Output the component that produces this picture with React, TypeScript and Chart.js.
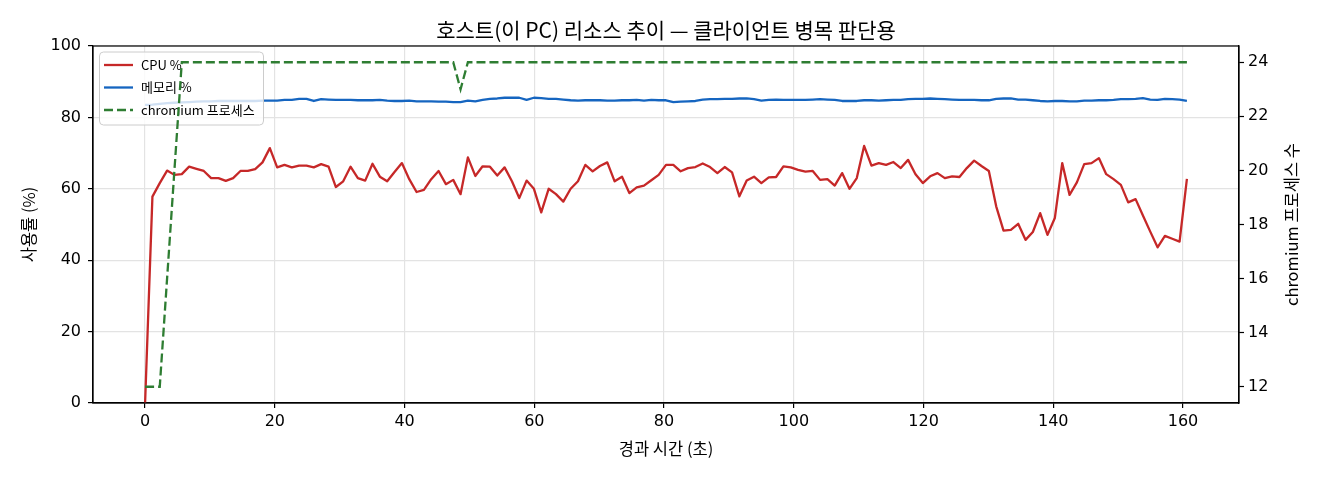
import React, { useEffect, useRef } from "react";
import { Chart, registerables } from "chart.js";

Chart.register(...registerables);

// sample times (s) and readings
const times = [
  0, 1.13, 2.26, 3.39, 4.52, 5.66, 6.79, 7.92, 9.05, 10.18,
  11.31, 12.44, 13.57, 14.7, 15.83, 16.97, 18.1, 19.23, 20.36, 21.49,
  22.62, 23.75, 24.88, 26.01, 27.14, 28.28, 29.41, 30.54, 31.67, 32.8,
  33.93, 35.06, 36.19, 37.32, 38.45, 39.59, 40.72, 41.85, 42.98, 44.11,
  45.24, 46.37, 47.5, 48.63, 49.76, 50.9, 52.03, 53.16, 54.29, 55.42,
  56.55, 57.68, 58.81, 59.94, 61.07, 62.21, 63.34, 64.47, 65.6, 66.73,
  67.86, 68.99, 70.12, 71.25, 72.38, 73.52, 74.65, 75.78, 76.91, 78.04,
  79.17, 80.3, 81.43, 82.56, 83.69, 84.83, 85.96, 87.09, 88.22, 89.35,
  90.48, 91.61, 92.74, 93.87, 95.0, 96.14, 97.27, 98.4, 99.53, 100.66,
  101.79, 102.92, 104.05, 105.18, 106.31, 107.45, 108.58, 109.71, 110.84, 111.97,
  113.1, 114.23, 115.36, 116.49, 117.62, 118.76, 119.89, 121.02, 122.15, 123.28,
  124.41, 125.54, 126.67, 127.8, 128.93, 130.07, 131.2, 132.33, 133.46, 134.59,
  135.72, 136.85, 137.98, 139.11, 140.24, 141.38, 142.51, 143.64, 144.77, 145.9,
  147.03, 148.16, 149.29, 150.42, 151.55, 152.69, 153.82, 154.95, 156.08, 157.21,
  158.34, 159.47, 160.6,
];

const cpuPct = [
  0, 57.8, 61.6, 65.1, 63.9, 64.1, 66.2, 65.6, 65.0, 63.0,
  63.0, 62.2, 63.0, 65.0, 65.0, 65.5, 67.4, 71.4, 66.0, 66.7,
  66.0, 66.5, 66.5, 66.0, 66.9, 66.2, 60.5, 62.1, 66.2, 63.0,
  62.3, 67.0, 63.4, 62.1, 64.7, 67.2, 62.7, 59.1, 59.7, 62.7,
  65.0, 61.3, 62.5, 58.5, 68.8, 63.6, 66.3, 66.2, 63.7, 66.0,
  62.1, 57.4, 62.3, 60.0, 53.4, 60.0, 58.5, 56.4, 60.0, 62.1,
  66.7, 64.9, 66.4, 67.4, 62.1, 63.4, 58.8, 60.4, 60.9, 62.4,
  63.9, 66.7, 66.7, 64.9, 65.8, 66.1, 67.1, 66.1, 64.4, 66.1,
  64.6, 57.9, 62.3, 63.4, 61.6, 63.2, 63.3, 66.3, 66.0, 65.3,
  64.8, 65.0, 62.5, 62.7, 60.9, 64.4, 60.0, 63.0, 72.0, 66.5,
  67.2, 66.7, 67.5, 65.8, 68.1, 64.1, 61.6, 63.5, 64.4, 63.0,
  63.5, 63.3, 65.8, 67.9, 66.4, 65.0, 55.1, 48.3, 48.5, 50.2,
  45.7, 47.9, 53.2, 47.1, 51.8, 67.2, 58.3, 61.8, 66.9, 67.2,
  68.6, 64.1, 62.7, 61.1, 56.2, 57.1, 52.5, 48.0, 43.6, 46.8,
  46.0, 45.2, 62.8,
];

const memPct = [
  83.5, 83.6, 83.8, 84.0, 84.1, 84.2, 84.3, 84.4, 84.5, 84.5,
  84.6, 84.6, 84.6, 84.6, 84.6, 84.6, 84.7, 84.7, 84.7, 84.9,
  84.9, 85.2, 85.2, 84.6, 85.1, 85.0, 84.9, 84.9, 84.9, 84.8,
  84.8, 84.8, 84.9, 84.7, 84.6, 84.6, 84.7, 84.5, 84.5, 84.5,
  84.4, 84.4, 84.3, 84.3, 84.7, 84.5, 84.9, 85.2, 85.3, 85.5,
  85.5, 85.5, 84.9, 85.5, 85.4, 85.2, 85.2, 85.0, 84.8, 84.7,
  84.8, 84.8, 84.8, 84.7, 84.7, 84.8, 84.8, 84.9, 84.7, 84.9,
  84.8, 84.8, 84.3, 84.4, 84.5, 84.6, 85.0, 85.1, 85.1, 85.2,
  85.2, 85.3, 85.3, 85.1, 84.7, 84.9, 85.0, 84.9, 84.9, 84.9,
  84.9, 85.0, 85.1, 85.0, 84.9, 84.6, 84.6, 84.6, 84.8, 84.8,
  84.7, 84.8, 84.9, 84.9, 85.1, 85.2, 85.2, 85.3, 85.2, 85.1,
  85.0, 84.9, 84.9, 84.9, 84.8, 84.8, 85.2, 85.3, 85.3, 85.0,
  85.0, 84.8, 84.6, 84.5, 84.6, 84.6, 84.5, 84.5, 84.7, 84.7,
  84.8, 84.8, 84.9, 85.1, 85.1, 85.2, 85.4, 85.0, 84.9, 85.2,
  85.1, 85.0, 84.6,
];

const chromiumProcs = [
  12, 12, 12, 16, 20, 24, 24, 24, 24, 24,
  24, 24, 24, 24, 24, 24, 24, 24, 24, 24,
  24, 24, 24, 24, 24, 24, 24, 24, 24, 24,
  24, 24, 24, 24, 24, 24, 24, 24, 24, 24,
  24, 24, 24, 23, 24, 24, 24, 24, 24, 24,
  24, 24, 24, 24, 24, 24, 24, 24, 24, 24,
  24, 24, 24, 24, 24, 24, 24, 24, 24, 24,
  24, 24, 24, 24, 24, 24, 24, 24, 24, 24,
  24, 24, 24, 24, 24, 24, 24, 24, 24, 24,
  24, 24, 24, 24, 24, 24, 24, 24, 24, 24,
  24, 24, 24, 24, 24, 24, 24, 24, 24, 24,
  24, 24, 24, 24, 24, 24, 24, 24, 24, 24,
  24, 24, 24, 24, 24, 24, 24, 24, 24, 24,
  24, 24, 24, 24, 24, 24, 24, 24, 24, 24,
  24, 24, 24,
];

const xTicks = [0, 20, 40, 60, 80, 100, 120, 140, 160];
const pctTicks = [0, 20, 40, 60, 80, 100];
const procTicks = [12, 14, 16, 18, 20, 22, 24];

const TITLE = "호스트(이 PC) 리소스 추이 — 클라이언트 병목 판단용";
const X_LABEL = "경과 시간 (초)";
const Y_LABEL = "사용률 (%)";
const Y1_LABEL = "chromium 프로세스 수";
const LEGEND_LABELS = ["CPU %", "메모리 %", "chromium 프로세스"];

const KR_FONT = '"Noto Sans CJK KR", sans-serif';
const TICK_FONT = '"DejaVu Sans", sans-serif';
const RED = "#c62828";
const BLUE = "#1565c0";
const GREEN = "#2e7d32";
const GRID = "#e3e3e3";
const DASH = [9, 4];
const LINE_W = 2.3;

function drawLegend(chart: Chart) {
  const ctx = chart.ctx;
  const x = 99.5;
  const y = 52;
  const w = 164;
  const h = 73;
  ctx.save();
  ctx.beginPath();
  ctx.roundRect(x, y, w, h, 4);
  ctx.fillStyle = "rgba(255,255,255,0.8)";
  ctx.fill();
  ctx.strokeStyle = "#cccccc";
  ctx.lineWidth = 1;
  ctx.stroke();

  const colors = [RED, BLUE, GREEN];
  ctx.font = `13px ${KR_FONT}`;
  ctx.textBaseline = "middle";
  ctx.textAlign = "left";
  LEGEND_LABELS.forEach((label, i) => {
    const ly = 65 + i * 22.5;
    ctx.beginPath();
    ctx.setLineDash(i === 2 ? DASH : []);
    ctx.strokeStyle = colors[i];
    ctx.lineWidth = LINE_W;
    ctx.moveTo(104, ly);
    ctx.lineTo(133, ly);
    ctx.stroke();
    ctx.fillStyle = "#000";
    ctx.fillText(label, 141, ly);
  });
  ctx.restore();
}

const decorations = {
  id: "decorations",
  beforeDatasetDraw(chart: Chart, args: any) {
    // legend sits on the left axes, the twin-axis line goes over it
    if (args.index === 2) drawLegend(chart);
  },
  afterDraw(chart: Chart) {
    const { ctx, chartArea: a } = chart;
    const midX = (a.left + a.right) / 2;
    const midY = (a.top + a.bottom) / 2;
    ctx.save();
    ctx.strokeStyle = "#000";
    ctx.lineWidth = 1.2;
    ctx.setLineDash([]);
    ctx.strokeRect(a.left, a.top, a.right - a.left, a.bottom - a.top);

    ctx.fillStyle = "#000";
    ctx.textAlign = "center";
    ctx.textBaseline = "middle";
    ctx.font = `21px ${KR_FONT}`;
    ctx.fillText(TITLE, midX, 30);

    ctx.font = `16.5px ${KR_FONT}`;
    ctx.fillText(X_LABEL, midX, 449);

    ctx.save();
    ctx.translate(29, midY);
    ctx.rotate(-Math.PI / 2);
    ctx.fillText(Y_LABEL, 0, 0);
    ctx.restore();

    ctx.save();
    ctx.translate(1292, midY);
    ctx.rotate(-Math.PI / 2);
    ctx.fillText(Y1_LABEL, 0, 0);
    ctx.restore();
    ctx.restore();
  },
};

export default function App() {
  const canvasRef = useRef<HTMLCanvasElement>(null);

  useEffect(() => {
    const canvas = canvasRef.current;
    if (!canvas) return;

    const pts = (vals: number[]) => vals.map((v, i) => ({ x: times[i], y: v }));
    const tickFont = { family: TICK_FONT, size: 16 };

    const chart = new Chart(canvas, {
      type: "line",
      data: {
        datasets: [
          {
            label: LEGEND_LABELS[0],
            data: pts(cpuPct),
            borderColor: RED,
            borderWidth: LINE_W,
            pointRadius: 0,
            borderJoinStyle: "round",
            yAxisID: "y",
            order: 3,
          },
          {
            label: LEGEND_LABELS[1],
            data: pts(memPct),
            borderColor: BLUE,
            borderWidth: LINE_W,
            pointRadius: 0,
            borderJoinStyle: "round",
            yAxisID: "y",
            order: 2,
          },
          {
            label: LEGEND_LABELS[2],
            data: pts(chromiumProcs),
            borderColor: GREEN,
            borderWidth: LINE_W,
            borderDash: DASH,
            pointRadius: 0,
            yAxisID: "y1",
            order: 1,
          },
        ],
      },
      options: {
        animation: false,
        responsive: false,
        layout: { padding: { top: 46, left: 0, right: 0, bottom: 0 } },
        plugins: {
          legend: { display: false },
          title: { display: false },
          tooltip: { enabled: false },
        },
        scales: {
          x: {
            type: "linear",
            min: -8.03,
            max: 168.63,
            afterBuildTicks: (s: any) => {
              s.ticks = xTicks.map((v) => ({ value: v }));
            },
            afterFit: (s: any) => {
              s.height = 77;
            },
            grid: { color: GRID, lineWidth: 1.2, tickColor: "#000", tickLength: 5, tickWidth: 1.2 },
            border: { color: "#000", width: 1.2 },
            ticks: { font: tickFont, color: "#000", padding: 4, maxRotation: 0, autoSkip: false },
          },
          y: {
            type: "linear",
            position: "left",
            min: 0,
            max: 100,
            afterBuildTicks: (s: any) => {
              s.ticks = pctTicks.map((v) => ({ value: v }));
            },
            afterFit: (s: any) => {
              s.width = 93;
            },
            grid: { color: GRID, lineWidth: 1.2, tickColor: "#000", tickLength: 5, tickWidth: 1.2 },
            border: { color: "#000", width: 1.2 },
            ticks: { font: tickFont, color: "#000", padding: 7 },
          },
          y1: {
            type: "linear",
            position: "right",
            min: 11.4,
            max: 24.6,
            afterBuildTicks: (s: any) => {
              s.ticks = procTicks.map((v) => ({ value: v }));
            },
            afterFit: (s: any) => {
              s.width = 81;
            },
            grid: { drawOnChartArea: false, tickColor: "#000", tickLength: 5, tickWidth: 1.2 },
            border: { color: "#000", width: 1.2 },
            ticks: { font: tickFont, color: "#000", padding: 4 },
          },
        },
      },
      plugins: [decorations],
    });

    return () => {
      chart.destroy();
    };
  }, []);

  return (
    <div style={{ position: "fixed", left: 0, top: 0, width: 1320, height: 480, background: "#fff" }}>
      <canvas ref={canvasRef} width={1320} height={480} style={{ display: "block" }} />
    </div>
  );
}
